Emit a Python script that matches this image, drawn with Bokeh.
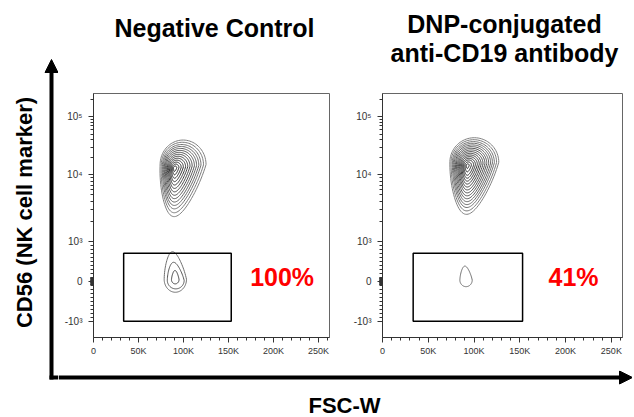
import numpy as np
from bokeh.plotting import figure
from bokeh.layouts import row, column
from bokeh.models import Range1d, FixedTicker
from bokeh.core.properties import value
from bokeh.embed import file_html
from bokeh.resources import INLINE

# ---------------- data ----------------
panel_title_lines = [["Negative Control"], ["DNP-conjugated", "anti-CD19 antibody"]]
x_axis_title = "FSC-W"
y_axis_title = "CD56 (NK cell marker)"
percent_labels = ["100%", "41%"]
percent_fsc_k = [209.5, 208.7]
percent_cd56 = [110, 108]

fsc_max_k = 262.144
x_ticks_k = [0, 50, 100, 150, 200, 250]
x_tick_labels = ["0", "50K", "100K", "150K", "200K", "250K"]
x_minor_k = [10, 20, 30, 40, 60, 70, 80, 90, 110, 120, 130, 140,
             160, 170, 180, 190, 210, 220, 230, 240, 260]

y_tick_values = [-1000, 0, 1000, 10000, 100000]
y_tick_labels = ["-10\u00b3", "0", "10\u00b3", "10\u2074", "10\u2075"]
# channel (display) position of each decade on the biexponential axis
decade_values = [1e3, 1e4, 1e5]
decade_channels = [1.0, 2.667, 4.1175]
channel_min, channel_max = -1.4075, 4.70

gate_fsc_k = [33.5, 153.0]
gate_cd56 = [-1000, 700]

# upper (CD56+) population contours, channel units
p1_left = [74.0, 75.3, 76.6, 77.7, 78.8, 79.9, 81.0, 82.2, 83.3, 84.4, 85.5, 86.6, 87.8, 88.9]
p1_right = [125.0, 122.2, 119.4, 117.0, 114.5, 112.1, 109.6, 107.2, 104.7, 102.3, 99.8, 97.4, 94.9, 92.5]
p1_top = [3.535, 3.479, 3.423, 3.374, 3.325, 3.276, 3.227, 3.178, 3.129, 3.080, 3.031, 2.982, 2.933, 2.884]
p1_bottom = [1.618, 1.715, 1.812, 1.898, 1.983, 2.068, 2.153, 2.238, 2.324, 2.409, 2.494, 2.579, 2.665, 2.750]
p1_tip = [89.6, 89.7, 89.8, 89.8, 89.9, 89.9, 90.0, 90.0, 90.0, 90.0, 90.0, 90.0, 90.0, 90.0]

p2_left = [73.6, 74.9, 76.3, 77.4, 78.5, 79.7, 80.8, 82.0, 83.1, 84.2, 85.4, 86.5, 87.7, 88.8, 90.1, 91.5]
p2_right = [127.0, 124.6, 122.2, 120.1, 118.1, 116.0, 113.9, 111.9, 109.8, 107.7, 105.7, 103.6, 101.5, 99.5, 97.1, 94.7]
p2_top = [3.593, 3.544, 3.496, 3.454, 3.412, 3.370, 3.329, 3.287, 3.245, 3.203, 3.161, 3.120, 3.078, 3.036, 2.987, 2.939]
p2_bottom = [1.675, 1.761, 1.846, 1.919, 1.993, 2.066, 2.139, 2.213, 2.286, 2.359, 2.433, 2.506, 2.579, 2.653, 2.738, 2.824]
p2_tip = [91.8, 92.0, 92.1, 92.2, 92.3, 92.4, 92.5, 92.6, 92.6, 92.6, 92.6, 92.6, 92.6, 92.6, 92.6, 92.6]

# lower (gated) population contours, channel units
p1_low_left = [78.5, 82.0, 86.6]
p1_low_right = [103.3, 100.7, 95.0]
p1_low_top = [0.74, 0.475, 0.27]
p1_low_bottom = [-0.275, -0.19, -0.065]
p1_low_tip = [87.8, 89.0, 90.5]

p2_low_left = [84.5]
p2_low_right = [98.0]
p2_low_top = [0.38]
p2_low_bottom = [-0.135]
p2_low_tip = [90.0]


# ---------------- helpers ----------------
def to_channel(v):
    v = float(v)
    if v <= 1000:
        return v / 1000.0
    lg = np.log10(v)
    dl = np.log10(decade_values)
    if lg <= dl[-1]:
        return float(np.interp(lg, dl, decade_channels))
    slope = (decade_channels[-1] - decade_channels[-2]) / (dl[-1] - dl[-2])
    return float(decade_channels[-1] + (lg - dl[-1]) * slope)


def egg(left, right, top, bottom, tip_x, tip_down=True, n=90):
    t = np.linspace(0, 2 * np.pi, n)
    s, c = np.sin(t), np.cos(t)
    xm, hw = (left + right) / 2.0, (right - left) / 2.0
    if tip_down:
        yw = top - 0.32 * (top - bottom)
        u = np.clip(-s, 0, None)
    else:
        yw = bottom + 0.32 * (top - bottom)
        u = np.clip(s, 0, None)
    x = xm + (tip_x - xm) * u + hw * c * (1 - 0.28 * u)
    y = np.where(s >= 0, yw + (top - yw) * s, yw + (yw - bottom) * s)
    return list(x), list(y)


def gray_ramp(n, light=130, dark=20):
    out = []
    for i in range(n):
        g = int(round(light + (dark - light) * (i / max(n - 1, 1))))
        out.append("#%02x%02x%02x" % (g, g, g))
    return out


FONT_NAME = "Liberation Sans"
FONT = value(FONT_NAME)

y_tick_ch = [to_channel(v) for v in y_tick_values]
minor_vals = ([m * 10 ** k for k in (1, 2) for m in range(1, 10)]
              + [m * 10 ** k for k in (3, 4) for m in range(2, 10)] + [200000])
minor_vals = minor_vals + [-v for v in minor_vals if v < 1000]
y_minor_ch = sorted(to_channel(v) for v in minor_vals)


def make_panel(width, height, mb_left, mb_right, mb_bottom, upper, lower, pct_i):
    p = figure(width=width, height=height, title=None,
               x_range=Range1d(0, fsc_max_k), y_range=Range1d(channel_min, channel_max),
               min_border_left=mb_left, min_border_right=mb_right,
               min_border_top=18, min_border_bottom=mb_bottom,
               output_backend="svg", toolbar_location=None)
    p.grid.visible = False
    p.outline_line_color = "#666666"
    p.outline_line_width = 1
    p.background_fill_color = "white"
    p.border_fill_color = "white"

    xa = p.xaxis[0]
    xa.ticker = FixedTicker(ticks=x_ticks_k, minor_ticks=x_minor_k)
    xa.major_label_overrides = {float(k): l for k, l in zip(x_ticks_k, x_tick_labels)}
    ya = p.yaxis[0]
    ya.ticker = FixedTicker(ticks=y_tick_ch, minor_ticks=y_minor_ch)
    ya.major_label_overrides = {float(k): l for k, l in zip(y_tick_ch, y_tick_labels)}
    for ax in (xa, ya):
        ax.axis_line_color = "#333333"
        ax.major_tick_line_color = "#333333"
        ax.minor_tick_line_color = "#333333"
        ax.major_tick_in = 0
        ax.minor_tick_in = 0
        ax.major_label_text_font = FONT_NAME
        ax.major_label_text_color = "#333333"
    xa.major_label_text_font_size = "9px"
    ya.major_label_text_font_size = "10px"
    xa.major_tick_out = 5
    xa.minor_tick_out = 3
    xa.major_label_standoff = 3
    ya.major_tick_out = 5
    ya.minor_tick_out = 3
    ya.major_label_standoff = 6

    L, R, T, B, TIP = upper
    xs, ys = [], []
    for i in range(len(L)):
        x, y = egg(L[i], R[i], T[i], B[i], TIP[i], True)
        xs.append(x)
        ys.append(y)
    p.multi_line(xs, ys, line_color=gray_ramp(len(L)), line_width=1.0)

    L, R, T, B, TIP = lower
    xs, ys = [], []
    for i in range(len(L)):
        x, y = egg(L[i], R[i], T[i], B[i], TIP[i], False)
        xs.append(x)
        ys.append(y)
    p.multi_line(xs, ys, line_color=gray_ramp(len(L), 110, 60), line_width=1.0)

    p.quad(left=[gate_fsc_k[0]], right=[gate_fsc_k[1]],
           bottom=[to_channel(gate_cd56[0])], top=[to_channel(gate_cd56[1])],
           fill_color=None, line_color="black", line_width=1.5)

    p.text(x=[percent_fsc_k[pct_i]], y=[to_channel(percent_cd56[pct_i])],
           text=[percent_labels[pct_i]], text_color="#ff0000",
           text_font=FONT, text_font_style="bold", text_font_size="25px",
           text_align="center", text_baseline="middle")
    return p


def blank(width, height, xr, yr):
    p = figure(width=width, height=height, title=None, x_range=Range1d(*xr), y_range=Range1d(*yr),
               x_axis_type=None, y_axis_type=None, min_border=0,
               output_backend="svg", toolbar_location=None)
    p.grid.visible = False
    p.outline_line_color = None
    return p


# ---------------- layout (page pixel coordinates for decorations) ----------------
left = blank(58, 416, (0, 58), (416, 0))
left.line([51, 51], [70, 379], line_color="black", line_width=4)
left.line([49, 58], [377, 377], line_color="black", line_width=4)
left.patch([44.5, 57.5, 51], [72, 72, 59], color="black")
left.text(x=[24], y=[212], text=[y_axis_title], angle=np.pi / 2,
          text_font=FONT, text_font_style="bold", text_font_size="22px",
          text_align="center", text_baseline="middle", text_color="black")

top = blank(574, 75, (58, 632), (75, 0))
title_x = [214, 504]
title_y = [[27.3], [23, 52.3]]
for i, lines in enumerate(panel_title_lines):
    top.text(x=[title_x[i]] * len(lines), y=title_y[i], text=lines,
             text_font=FONT, text_font_style="bold", text_font_size="25px",
             text_align="center", text_baseline="middle", text_color="black")

bottom = blank(574, 46, (58, 632), (416, 370))
bottom.line([58, 621], [377, 377], line_color="black", line_width=4)
bottom.patch([619, 619, 632], [370.5, 383.5, 377], color="black")
bottom.text(x=[344], y=[404.5], text=[x_axis_title],
            text_font=FONT, text_font_style="bold", text_font_size="22px",
            text_align="center", text_baseline="middle", text_color="black")

p1 = make_panel(282, 295, 35, 11, 33,
                (p1_left, p1_right, p1_top, p1_bottom, p1_tip),
                (p1_low_left, p1_low_right, p1_low_top, p1_low_bottom, p1_low_tip), 0)
p2 = make_panel(292, 295, 42, 10, 29,
                (p2_left, p2_right, p2_top, p2_bottom, p2_tip),
                (p2_low_left, p2_low_right, p2_low_top, p2_low_bottom, p2_low_tip), 1)

layout = row(left, column(top, row(p1, p2), bottom))

open("out.html", "w").write(file_html(layout, INLINE))
